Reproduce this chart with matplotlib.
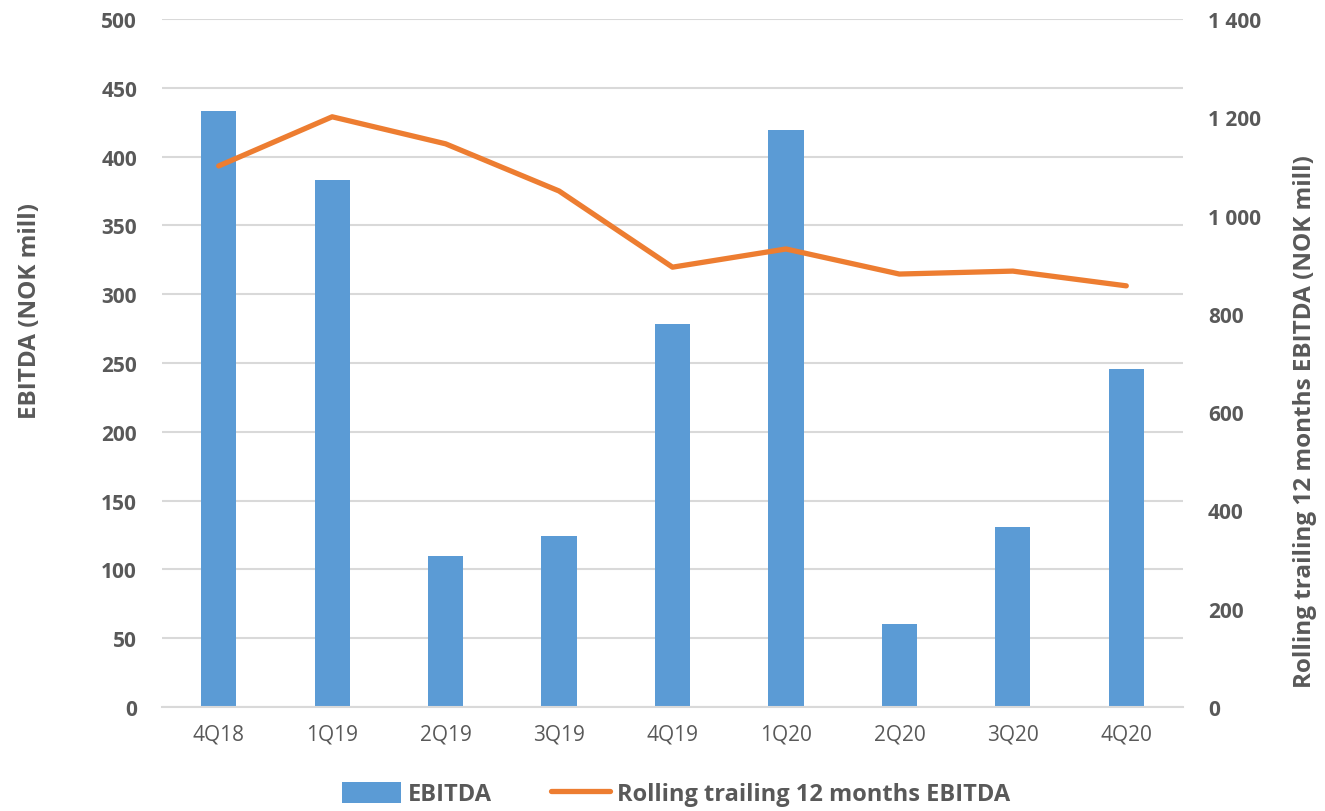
import matplotlib
matplotlib.use("Agg")
import matplotlib.pyplot as plt
from matplotlib.ticker import FuncFormatter

categories = ["4Q18", "1Q19", "2Q19", "3Q19", "4Q19", "1Q20", "2Q20", "3Q20", "4Q20"]
ebitda = [433, 383, 110, 124, 278, 419, 60, 131, 246]
rolling = [1101, 1201, 1146, 1050, 895, 932, 881, 887, 857]
left_ticks = [0, 50, 100, 150, 200, 250, 300, 350, 400, 450, 500]
right_ticks = [0, 200, 400, 600, 800, 1000, 1200, 1400]

plt.rcParams['font.family'] = ['Open Sans', 'DejaVu Sans']
gray = '#595959'

fig = plt.figure(figsize=(13.25, 8.12), dpi=100)
ax = fig.add_axes([162/1325, 104/812, 1021/1325, 688/812])
x = list(range(len(categories)))
bars = ax.bar(x, ebitda, width=0.31, color='#5B9BD5', label='EBITDA', zorder=2)
ax.set_xlim(-0.5, len(categories) - 0.5)
ax.set_ylim(0, 500)
ax.set_yticks(left_ticks)
ax.yaxis.grid(True, color='#D9D9D9', linewidth=1.5, zorder=0)
ax.set_axisbelow(True)
for s in ['top', 'right', 'left']:
    ax.spines[s].set_visible(False)
ax.spines['bottom'].set_color('#D9D9D9')
ax.spines['bottom'].set_linewidth(1.5)
ax.tick_params(axis='both', length=0)
ax.tick_params(axis='y', pad=18)
ax.tick_params(axis='x', pad=12)
ax.set_xticks(x)
ax.set_xticklabels(categories, fontsize=15, color=gray)
for t in ax.get_yticklabels():
    t.set_fontsize(15); t.set_fontweight('bold'); t.set_color(gray)
ax.set_ylabel('EBITDA (NOK mill)', fontsize=17.5, fontweight='bold', color=gray,
              va='center', ha='center')
ax.yaxis.set_label_coords(-0.129, 0.577)

ax2 = ax.twinx()
line, = ax2.plot(x, rolling, color='#ED7D31', linewidth=3.8, solid_capstyle='round',
                 label='Rolling trailing 12 months EBITDA', zorder=3)
ax2.set_ylim(0, 1400)
ax2.set_yticks(right_ticks)
ax2.yaxis.set_major_formatter(FuncFormatter(lambda v, p: f"{int(v):,}".replace(",", " ")))
for s in ['top', 'right', 'left', 'bottom']:
    ax2.spines[s].set_visible(False)
ax2.tick_params(axis='y', length=0, pad=18)
for t in ax2.get_yticklabels():
    t.set_fontsize(15); t.set_fontweight('bold'); t.set_color(gray)
ax2.set_ylabel('Rolling trailing 12 months EBITDA (NOK mill)', fontsize=17.5, fontweight='bold',
               color=gray, va='center', ha='center')
ax2.yaxis.set_label_coords(1.1195, 0.416)

leg = fig.legend([bars, line], ['EBITDA', 'Rolling trailing 12 months EBITDA'],
                 loc='center', bbox_to_anchor=(0.51, 0.021), ncol=2, frameon=False,
                 fontsize=17, handlelength=2.5, handleheight=1.0, columnspacing=2.5,
                 handletextpad=0.3)
for t in leg.get_texts():
    t.set_fontweight('bold'); t.set_color(gray)

fig.savefig('out.png', dpi=100)
